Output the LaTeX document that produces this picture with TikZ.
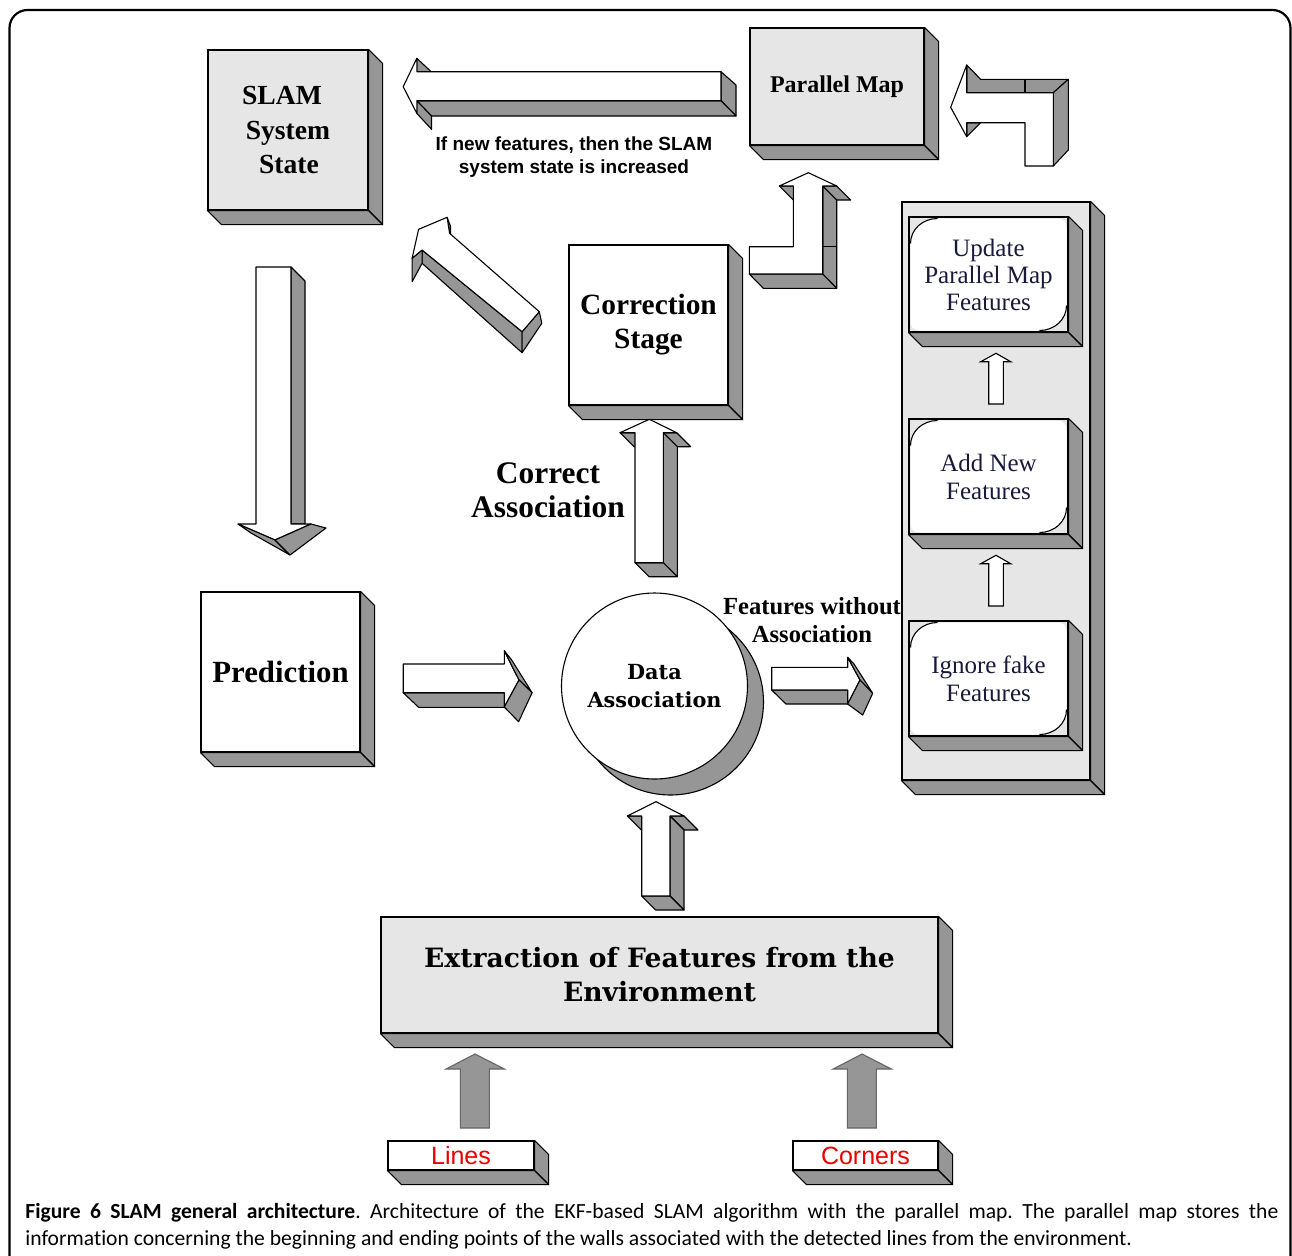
\documentclass[tikz,border=0pt]{standalone}
\usepackage{fontspec}
\setmainfont{Liberation Serif}
\newfontfamily\arialf{Liberation Sans}
\newfontfamily\bookf{DejaVu Serif}
\newfontfamily\capf[Ligatures=NoCommon]{Carlito}
\usetikzlibrary{calc}
\definecolor{sideg}{RGB}{150,150,150}
\definecolor{faceg}{RGB}{230,230,230}
\definecolor{navy}{RGB}{25,25,60}
\definecolor{lblred}{RGB}{235,0,0}
\tikzset{
  lw/.style={line width=0.55pt},
  blk/.style={rectangle, draw=black, lw, inner sep=0pt, align=center},
  gface/.style={draw=black, lw, fill=sideg, line join=round},
  wface/.style={draw=black, lw, fill=white, line join=round},
  flatarrow/.style={draw=black, lw, fill=white},
  grayarrow/.style={draw=black!60, lw, fill=sideg},
  roundwhite/.style={path picture={
    \coordinate (pnw) at ($(path picture bounding box.north west)+(1.5,1.5)$);
    \coordinate (pse) at ($(path picture bounding box.south east)+(-1.5,-1.5)$);
    \coordinate (pne) at ($(path picture bounding box.north east)+(-1.5,1.5)$);
    \coordinate (psw) at ($(path picture bounding box.south west)+(1.5,-1.5)$);
    \fill[white] ($(pnw)+(0,25)$) .. controls ($(pnw)+(0,11)$) and ($(pnw)+(12,0)$) .. ($(pnw)+(27,0)$)
      -- ($(pne)+(-10,0)$) .. controls ($(pne)+(-3,0)$) and ($(pne)+(0,3)$) .. ($(pne)+(0,10)$)
      -- ($(pse)+(0,-25)$) .. controls ($(pse)+(0,-11)$) and ($(pse)+(-12,0)$) .. ($(pse)+(-27,0)$)
      -- ($(psw)+(10,0)$) .. controls ($(psw)+(3,0)$) and ($(psw)+(0,-3)$) .. ($(psw)+(0,-10)$) -- cycle;
    \draw[black, line width=0.55pt] ($(pnw)+(0,25)$) .. controls ($(pnw)+(0,11)$) and ($(pnw)+(12,0)$) .. ($(pnw)+(27,0)$);
    \draw[black, line width=0.55pt] ($(pse)+(0,-25)$) .. controls ($(pse)+(0,-11)$) and ($(pse)+(-12,0)$) .. ($(pse)+(-27,0)$);
  }},
}
\newcommand\threed[1]{%
  \filldraw[gface] (#1.north east) -- ++(14,14) -- ($(#1.south east)+(14,14)$) -- (#1.south east) -- cycle;
  \filldraw[gface] (#1.south west) -- ($(#1.south west)+(14,14)$) -- ($(#1.south east)+(14,14)$) -- (#1.south east) -- cycle;
}
\begin{document}
\frenchspacing
\begin{tikzpicture}[x=0.5pt,y=-0.5pt]
\useasboundingbox (0,0) rectangle (1292,1255);
\begin{scope}
  \clip (0,0) rectangle (1292,1255);
  \draw[line width=1.1pt, rounded corners=9pt] (9.5,10) rectangle (1290.5,1300);
\end{scope}

% ---------- boxes ----------
\node[blk, fill=faceg, minimum width=80pt, minimum height=80pt,
      font=\bfseries\fontsize{13.8}{17.25}\selectfont] (slam) at (288,130)
      {SLAM\hspace*{6pt}\\System\hspace*{6pt}\\\ \ State\hspace*{6pt}};
\threed{slam}
\node[blk, fill=faceg, minimum width=87pt, minimum height=58.5pt,
      font=\bfseries\fontsize{12}{14}\selectfont] (pmap) at (837,86.5) {Parallel Map};
\threed{pmap}
\node[blk, fill=white, minimum width=79.5pt, minimum height=80pt,
      font=\bfseries\fontsize{14.7}{17}\selectfont] (corr) at (648.5,325) {Correction\\Stage};
\threed{corr}
\node[blk, fill=white, minimum width=79.5pt, minimum height=80pt,
      font=\bfseries\fontsize{15.4}{17}\selectfont] (pred) at (280.5,672) {Prediction};
\threed{pred}
\coordinate (dac) at (654.5,686);
\filldraw[gface] ($(dac)+(16,16)$) circle[radius=46.5pt];
\node[circle, draw=black, lw, fill=white, minimum size=93pt, inner sep=0pt, align=center,
      font=\bookf\bfseries\fontsize{10.4}{14}\selectfont] (da) at (dac) {Data\\Association};
\node[blk, fill=faceg, minimum width=278.5pt, minimum height=58pt,
      font=\bookf\bfseries\fontsize{13.3}{17}\selectfont] (extr) at (659.5,975) {Extraction of Features from the\\Environment};
\threed{extr}
\node[blk, fill=white, minimum width=73pt, minimum height=14.5pt, text=lblred,
      font=\arialf\fontsize{12.5}{14}\selectfont] (lines) at (461,1155.5) {Lines};
\threed{lines}
\node[blk, fill=white, minimum width=72.5pt, minimum height=14.5pt, text=lblred,
      font=\arialf\fontsize{12.5}{14}\selectfont] (corners) at (865.5,1155.5) {Corners};
\threed{corners}

% ---------- right panel ----------
\node[blk, fill=faceg, minimum width=94pt, minimum height=289pt] (panel) at (996,491) {};
\threed{panel}
\node[blk, fill=faceg, roundwhite, minimum width=79.5pt, minimum height=57.5pt, text=navy,
      font=\fontsize{12.5}{13.5}\selectfont] (upd) at (988.5,274.5) {Update\\Parallel Map\\Features};
\threed{upd}
\node[blk, fill=faceg, roundwhite, minimum width=79.5pt, minimum height=57.5pt, text=navy,
      font=\fontsize{12.5}{14}\selectfont] (addn) at (988.5,476.5) {Add New\\Features};
\threed{addn}
\node[blk, fill=faceg, roundwhite, minimum width=79.5pt, minimum height=57.5pt, text=navy,
      font=\fontsize{12.5}{14}\selectfont] (ign) at (988.5,678.5) {Ignore fake\\Features};
\threed{ign}
\filldraw[flatarrow] (996,353.3) -- (1010.7,361.7) -- (1003.3,361.7) -- (1003.3,404) -- (988.7,404) -- (988.7,361.7) -- (980.7,361.7) -- cycle;
\filldraw[flatarrow] (996,555.3) -- (1010.7,563.7) -- (1003.3,563.7) -- (1003.3,606) -- (988.7,606) -- (988.7,563.7) -- (980.7,563.7) -- cycle;

% ---------- A1: Parallel Map -> SLAM ----------
\filldraw[gface] (416.8,58.3) -- (431.5,72) -- (416.8,72) -- cycle;
\filldraw[gface] (721,71.7) -- (736,85) -- (736,116) -- (721,100.7) -- cycle;
\filldraw[gface] (416.8,100.7) -- (721,100.7) -- (736,116) -- (431.5,116) -- cycle;
\filldraw[gface] (416.8,100.7) -- (431.5,116) -- (431.5,129.3) -- (416.8,113.3) -- cycle;
\filldraw[wface] (403.2,86.7) -- (416.8,58.3) -- (416.8,71.7) -- (721,71.7) -- (721,100.7) -- (416.8,100.7) -- (416.8,113.3) -- cycle;

% ---------- A2: panel -> Parallel Map (L shape) ----------
\filldraw[gface] (966.7,65) -- (980.7,79.3) -- (1068.3,79.3) -- (1053.3,92.7) -- (966.7,92.7) -- cycle;
\draw[lw] (1025,79.3) -- (1025,92.7);
\filldraw[gface] (1053.3,92.7) -- (1068.3,79.3) -- (1068.3,150) -- (1053.3,166) -- cycle;
\filldraw[gface] (966.7,122.7) -- (980.7,122.7) -- (966.7,136.7) -- cycle;
\filldraw[wface] (950.7,107.3) -- (966.7,65) -- (966.7,92.7) -- (1053.3,92.7) -- (1053.3,166) -- (1025,166) -- (1025,122.7) -- (966.7,122.7) -- (966.7,136.7) -- cycle;

% ---------- A3: Correction -> Parallel Map (L shape) ----------
\filldraw[gface] (779.3,186) -- (793.3,186) -- (807.3,200) -- (793.3,200) -- cycle;
\filldraw[gface] (822.7,186) -- (836.7,186) -- (850.7,200) -- (836.7,200) -- cycle;
\filldraw[gface] (822.7,186) -- (836.7,200) -- (836.7,288.3) -- (822.7,274) -- cycle;
\draw[lw] (822.7,246.7) -- (836.7,246.7);
\filldraw[gface] (749.3,274) -- (822.7,274) -- (836.7,288.3) -- (763.3,288.3) -- cycle;
\filldraw[wface] (808.3,172.7) -- (836.7,186) -- (822.7,186) -- (822.7,274) -- (749.3,274) -- (749.3,246.7) -- (793.3,246.7) -- (793.3,186) -- (779.3,186) -- cycle;

% ---------- A4: Correction -> SLAM (diagonal) ----------
\filldraw[gface] (447.1,217.3) -- (450.5,226) -- (450.5,238) -- (449.6,233.3) -- cycle;
\filldraw[gface] (422.1,250) -- (522.1,331.7) -- (522.1,352.7) -- (422.1,263.3) -- cycle;
\filldraw[gface] (412.1,258.3) -- (422.1,250) -- (422.1,263.3) -- (412.1,281.7) -- cycle;
\filldraw[gface] (522.1,331.7) -- (539.3,311.7) -- (541.8,323.3) -- (522.1,352.7) -- cycle;
\filldraw[wface] (447.1,217.3) -- (418.6,229.3) -- (412.1,258.3) -- (422.1,250) -- (522.1,331.7) -- (539.3,311.7) -- (449.6,233.3) -- cycle;

% ---------- A5: SLAM -> Prediction ----------
\filldraw[gface] (291,267) -- (305,281) -- (305,524) -- (291,524) -- cycle;
\filldraw[wface] (256,267) -- (291,267) -- (291,524) -- (311,524) -- (275,540) -- (238,524) -- (256,524) -- cycle;
\filldraw[gface] (238,524) -- (275,540) -- (290,555) -- (251,533) -- cycle;
\filldraw[gface] (275,540) -- (311,524) -- (326,528) -- (290,555) -- cycle;

% ---------- A6: Prediction -> Data Association ----------
\filldraw[gface] (403.2,692.7) -- (504.3,692.7) -- (504.3,707.3) -- (418.6,707.3) -- cycle;
\filldraw[wface] (403.2,664) -- (504.3,664) -- (504.3,650.7) -- (519,680) -- (504.3,707) -- (504.3,692.7) -- (403.2,692.7) -- cycle;
\filldraw[gface] (504.3,650.7) -- (519,680) -- (532.1,692.7) -- (511.7,660) -- cycle;
\filldraw[gface] (519,680) -- (504.3,707) -- (518.6,721.7) -- (532.1,692.7) -- cycle;

% ---------- A7: Data Association -> Correction ----------
\filldraw[gface] (620,432.7) -- (635,432.7) -- (649,446.7) -- (634,446.7) -- cycle;
\filldraw[gface] (663.3,432.7) -- (676.7,432.7) -- (690.7,446.7) -- (677.3,446.7) -- cycle;
\filldraw[gface] (663.3,432.7) -- (677.3,446.7) -- (677.3,576.7) -- (663.3,562.7) -- cycle;
\filldraw[gface] (635,562.7) -- (663.3,562.7) -- (677.3,576.7) -- (649,576.7) -- cycle;
\filldraw[wface] (649.3,419.3) -- (676.7,432.7) -- (663.3,432.7) -- (663.3,562.7) -- (635,562.7) -- (635,432.7) -- (620,432.7) -- cycle;

% ---------- A8: Data Association -> panel ----------
\filldraw[gface] (771.7,690) -- (847.7,690) -- (847.7,704) -- (786,704) -- cycle;
\filldraw[wface] (771.7,667.3) -- (847.7,667.3) -- (847.7,657.3) -- (860,680) -- (847.7,704) -- (847.7,690) -- (771.7,690) -- cycle;
\filldraw[gface] (847.7,657.3) -- (860,680) -- (872.7,693.3) -- (854,664) -- cycle;
\filldraw[gface] (860,680) -- (847.7,704) -- (862.7,715) -- (872.7,693.3) -- cycle;

% ---------- A9: Extraction -> Data Association ----------
\filldraw[gface] (627.3,816) -- (641.7,816) -- (655.7,830) -- (641.3,830) -- cycle;
\filldraw[gface] (670,816) -- (684,816) -- (698,830) -- (684,830) -- cycle;
\filldraw[gface] (670,816) -- (684,830) -- (684,910) -- (670,896) -- cycle;
\filldraw[gface] (641.7,896) -- (670,896) -- (684,910) -- (655.7,910) -- cycle;
\filldraw[wface] (656,801.7) -- (684,816) -- (670,816) -- (670,896) -- (641.7,896) -- (641.7,816) -- (627.3,816) -- cycle;

% ---------- gray input arrows ----------
\filldraw[grayarrow] (474.9,1054) -- (504.4,1069) -- (489.4,1069) -- (489.4,1128) -- (460.3,1128) -- (460.3,1069) -- (446.1,1069) -- cycle;
\filldraw[grayarrow] (862.1,1054) -- (891.3,1069) -- (876.4,1069) -- (876.4,1128) -- (847.3,1128) -- (847.3,1069) -- (833.1,1069) -- cycle;

% ---------- labels ----------
\node[align=center, font=\arialf\bfseries\fontsize{9.5}{11.5}\selectfont] (lblnew) at (574,157.5) {If new features, then the SLAM\\system state is increased};
\node[align=center, font=\bfseries\fontsize{15.7}{17}\selectfont] (lblcorr) at (548,490) {Correct\\Association};
\node[align=center, font=\bfseries\fontsize{12.3}{14}\selectfont] (lblfwa) at (812,620) {Features without\\Association};

% ---------- caption ----------
\node[anchor=north west, inner sep=0pt, text width=626.5pt, align=justify,
      font=\capf\fontsize{10.8}{13.5}\selectfont] (cap) at (25,1203)
  {\textbf{Figure 6 SLAM general architecture}. Architecture of the EKF-based SLAM algorithm with the parallel map. The parallel map stores the\linebreak information concerning the beginning and ending points of the walls associated with the detected lines from the environment.};
\end{tikzpicture}
\end{document}
